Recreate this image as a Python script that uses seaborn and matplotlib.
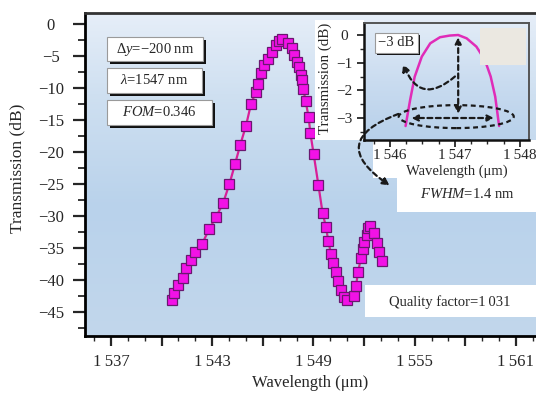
import numpy as np
import matplotlib
matplotlib.use("Agg")
import matplotlib.pyplot as plt
from matplotlib.patches import Rectangle, Ellipse, FancyArrowPatch
from matplotlib.ticker import MultipleLocator, FuncFormatter, FixedLocator
import seaborn as sns

# ---- data -------------------------------------------------------------
wavelength = [1540.60, 1540.73, 1540.99, 1541.25, 1541.44, 1541.72, 1541.98,
              1542.41, 1542.81, 1543.24, 1543.64, 1544.02, 1544.35, 1544.66,
              1545.00, 1545.30, 1545.59, 1545.73, 1545.89, 1546.08, 1546.29,
              1546.52, 1546.76, 1546.95, 1547.12, 1547.51, 1547.71, 1547.86,
              1548.00, 1548.14, 1548.26, 1548.30, 1548.40, 1548.54, 1548.71,
              1548.82, 1549.01, 1549.29, 1549.54, 1549.74, 1549.88, 1550.04,
              1550.17, 1550.33, 1550.47, 1550.61, 1550.81, 1551.00, 1551.40,
              1551.52, 1551.65, 1551.81, 1551.92, 1552.01, 1552.15, 1552.25,
              1552.35, 1552.59, 1552.75, 1552.88, 1553.04]
transmission = [-43.1, -42.1, -40.8, -39.7, -38.2, -36.9, -35.7,
                -34.3, -32.1, -30.1, -28.0, -25.0, -21.9, -18.9,
                -15.9, -12.5, -10.6, -9.3, -7.7, -6.4, -5.4,
                -4.3, -3.3, -2.6, -2.4, -2.9, -3.8, -4.8,
                -5.9, -6.7, -8.0, -8.8, -10.2, -12.1, -14.5,
                -17.1, -20.3, -25.1, -29.5, -31.7, -33.9, -35.9,
                -37.3, -38.7, -40.1, -41.5, -42.7, -43.2, -42.5,
                -40.9, -38.7, -36.6, -35.2, -34.0, -33.0, -31.9,
                -31.6, -32.7, -34.2, -35.6, -37.1]

# zoomed view of the main resonance (3 dB bandwidth)
peak_wl = [1546.24, 1546.31, 1546.38, 1546.49, 1546.62, 1546.77, 1546.92,
           1547.05, 1547.18, 1547.33, 1547.46, 1547.55, 1547.62, 1547.68]
peak_tr = [-3.29, -2.35, -1.51, -0.78, -0.30, -0.08, -0.02,
           0.00, -0.12, -0.42, -0.90, -1.50, -2.23, -3.29]

main_yticks = [0, -5, -10, -15, -20, -25, -30, -35, -40, -45]
main_xticks = [1537, 1540, 1543, 1546, 1549, 1552, 1555, 1558, 1561]
main_xlabels = [1537, 1543, 1549, 1555, 1561]
inset_xticks = [1546, 1547, 1548]
inset_yticks = [0, -1, -2, -3]

annotations = ["Δ$\\mathit{y}$=−200 nm", "$\\mathit{λ}$=1547 nm",
               "$\\mathit{FOM}$=0.346"]

# ---- style ------------------------------------------------------------
sns.set_style("ticks")
plt.rcParams["font.family"] = ["Liberation Serif", "DejaVu Serif"]
plt.rcParams["mathtext.fontset"] = "custom"
plt.rcParams["mathtext.rm"] = "Liberation Serif"
plt.rcParams["mathtext.it"] = "Liberation Serif:italic"
plt.rcParams["axes.unicode_minus"] = True

W, H = 536, 394
fig = plt.figure(figsize=(W / 100, H / 100), dpi=100)
fig.patch.set_facecolor("white")


def fbox(x0, y0, x1, y1):
    """Convert a pixel box (top-left origin) to figure fractions."""
    return (x0 / W, 1 - y1 / H, (x1 - x0) / W, (y1 - y0) / H)


def fig_rect(x0, y0, x1, y1, **kw):
    b = fbox(x0, y0, x1, y1)
    fig.add_artist(Rectangle((b[0], b[1]), b[2], b[3],
                             transform=fig.transFigure, **kw))


def gradient(ax, stops):
    pos = [s[0] for s in stops]
    cols = np.array([matplotlib.colors.to_rgb(s[1]) for s in stops])
    t = np.linspace(0, 1, 256)
    img = np.stack([np.interp(t, pos, cols[:, k]) for k in range(3)], axis=-1)
    ax.imshow(img[:, None, :], extent=[0, 1, 0, 1], transform=ax.transAxes,
              aspect="auto", zorder=0, interpolation="bicubic")


def thousands(v):
    v = int(round(v))
    return f"{v // 1000}\u2009{v % 1000:03d}"


# ---- main axes --------------------------------------------------------
ax = fig.add_axes(fbox(85, 13, 536, 336))
gradient(ax, [(0, "#e6eef8"), (0.25, "#cfe0f1"), (0.6, "#b9d2eb"),
              (1.0, "#c2d7ec")])

df = {"wl": wavelength, "tr": transmission}
sns.lineplot(x="wl", y="tr", data=df, ax=ax, color="#d81f98", lw=1.6,
             marker="s", markersize=7.2, markerfacecolor="#f212e6",
             markeredgecolor="#6a1870", markeredgewidth=0.9, zorder=3)

ax.set_xlim(1535.46, 1562.19)
ax.set_ylim(-48.75, 1.72)
ax.set_xlabel("Wavelength (μm)", fontsize=12)
ax.set_ylabel("Transmission (dB)", fontsize=12.5)
ax.yaxis.set_label_coords(-0.149, 0.52)
ax.yaxis.label.set_va("center")
ax.xaxis.set_label_coords(0.5, -0.1455)
ax.xaxis.label.set_va("center")

ax.xaxis.set_major_locator(FixedLocator(main_xticks))
ax.xaxis.set_minor_locator(MultipleLocator(1))
ax.xaxis.set_major_formatter(FuncFormatter(
    lambda v, p: thousands(v) if int(round(v)) in main_xlabels else ""))
ax.set_yticks(main_yticks)
ax.yaxis.set_minor_locator(FixedLocator([-2.5 - 5 * k for k in range(10)]))
ax.tick_params(axis="y", which="major", length=9, width=1.6, pad=15.5,
               labelsize=12)
ax.tick_params(axis="y", which="minor", length=5, width=1.3)
ax.tick_params(axis="x", which="major", length=7, width=1.6, pad=6,
               labelsize=12)
ax.tick_params(axis="x", which="minor", length=3.5, width=1.0)
for lab in ax.get_yticklabels():
    lab.set_horizontalalignment("center")

for s in ("left", "bottom"):
    ax.spines[s].set_linewidth(2)
    ax.spines[s].set_color("black")
ax.spines["top"].set_linewidth(2)
ax.spines["top"].set_color("#333333")
ax.spines["right"].set_visible(False)


def shadow_box(x0, y0, x1, y1, text, fs=10.5, off=3, z=5):
    fig_rect(x0 + off, y0 + off, x1 + off, y1 + off, fc="#111111",
             ec="none", zorder=z)
    fig_rect(x0, y0, x1, y1, fc="white", ec="#9a9a9a", lw=0.8,
             zorder=z + 0.1)
    fig.text((x0 + x1) / 2 / W, 1 - (y0 + y1) / 2 / H, text, ha="center",
             va="center", fontsize=fs, zorder=z + 0.2)


shadow_box(107, 37, 203, 61, annotations[0])
shadow_box(107, 68, 202, 93, annotations[1])
shadow_box(107, 100, 212, 125, annotations[2])

# white panels behind the inset labels and the notes
for box in [(315, 20, 364, 140), (373, 140, 536, 178), (397, 178, 536, 212),
            (365, 285, 536, 317)]:
    fig_rect(*box, fc="white", ec="none", zorder=1)

fig.text(450 / W, 1 - 302 / H, "Quality factor=1\u2009031", ha="center",
         va="center", fontsize=10.5, zorder=2)
fig.text(467 / W, 1 - 194 / H, "$\\mathit{FWHM}$=1.4 nm", ha="center",
         va="center", fontsize=10.5, zorder=4)

# ---- inset ------------------------------------------------------------
ax_in = fig.add_axes(fbox(364, 23, 529, 140))
ax_in.set_zorder(3)
gradient(ax_in, [(0, "#e2ecf7"), (0.5, "#cadcf0"), (1.0, "#b7d0ea")])
sns.lineplot(x=peak_wl, y=peak_tr, ax=ax_in, color="#e02cb8", lw=1.8,
             zorder=3)
ax_in.set_xlim(1545.6, 1548.14)
ax_in.set_ylim(-3.795, 0.434)
ax_in.set_xticks(inset_xticks)
ax_in.set_xticklabels([thousands(v) for v in inset_xticks])
ax_in.set_yticks(inset_yticks)
ax_in.xaxis.set_minor_locator(MultipleLocator(0.25))
ax_in.yaxis.set_minor_locator(MultipleLocator(0.5))
ax_in.tick_params(axis="both", which="major", length=5, width=1.3,
                  labelsize=11)
ax_in.tick_params(axis="y", which="major", pad=9)
ax_in.tick_params(axis="x", which="major", pad=1.5)
ax_in.tick_params(axis="both", which="minor", length=3, width=1.0)
for lab in ax_in.get_yticklabels():
    lab.set_horizontalalignment("center")
ax_in.set_xlabel("Wavelength (μm)", fontsize=10.5)
ax_in.xaxis.set_label_coords(0.56, -0.27)
ax_in.xaxis.label.set_va("center")
ax_in.set_ylabel("Transmission (dB)", fontsize=10.8)
ax_in.yaxis.set_label_coords(-0.236, 0.53)
ax_in.yaxis.label.set_va("center")
for s in ("left", "bottom"):
    ax_in.spines[s].set_linewidth(1.8)
    ax_in.spines[s].set_color("#111111")
for s in ("top", "right"):
    ax_in.spines[s].set_linewidth(1.4)
    ax_in.spines[s].set_color("#555555")

dash = (0, (2.2, 1.6))
arrow_kw = dict(arrowstyle="<|-|>", color="#1a1a1a", lw=1.6, linestyle=dash,
                mutation_scale=9, shrinkA=0, shrinkB=0)
ax_in.annotate("", xy=(1547.05, -2.85), xytext=(1547.05, -0.08),
               arrowprops=arrow_kw, zorder=4)
ax_in.annotate("", xy=(1546.33, -3.0), xytext=(1547.6, -3.0),
               arrowprops=arrow_kw, zorder=4)
ax_in.add_patch(Ellipse((1547.02, -2.95), 1.77, 0.83, fill=False,
                        ec="#1a1a1a", lw=1.6, linestyle=dash, zorder=4))
ax_in.annotate("", xy=(1546.2, -1.05), xytext=(1547.0, -1.5),
               arrowprops=dict(arrowstyle="-|>", color="#1a1a1a", lw=1.6,
                               linestyle=dash, mutation_scale=10,
                               shrinkA=0, shrinkB=0,
                               connectionstyle="arc3,rad=-0.7"), zorder=4)

# light patch in the inset corner
fig_rect(480, 28, 526, 65, fc="#ebe8e1", ec="none", zorder=3.5)

# -3 dB label
shadow_box(375, 33, 418, 53, "−3 dB", fs=10.5, off=2, z=5)

# arrow from the ellipse to the FWHM note
fig.add_artist(FancyArrowPatch((401 / W, 1 - 113 / H), (392 / W, 1 - 187 / H),
                               transform=fig.transFigure,
                               arrowstyle="-|>", color="#1a1a1a", lw=1.6,
                               linestyle=dash, mutation_scale=10,
                               connectionstyle="arc3,rad=1.0", zorder=6))

fig.savefig("out.png", dpi=100)
